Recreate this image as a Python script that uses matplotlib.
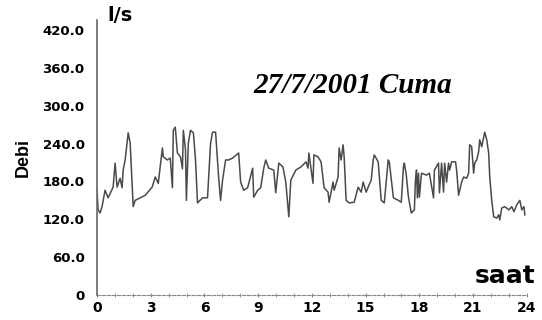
import matplotlib.pyplot as plt
import numpy as np

# hour of day and flow (l/s)
hours = [0.00, 0.06, 0.17, 0.28, 0.45, 0.62, 0.90, 1.01, 1.12, 1.29, 1.40, 1.46, 1.57, 1.74,
         1.85, 2.02, 2.13, 2.69, 3.08, 3.25, 3.42, 3.65, 3.70, 3.93, 4.09, 4.21, 4.26, 4.37,
         4.49, 4.66, 4.77, 4.82, 4.94, 4.99, 5.10, 5.22, 5.38, 5.50, 5.61, 5.89, 6.17, 6.34,
         6.45, 6.62, 6.79, 6.90, 7.01, 7.18, 7.35, 7.57, 7.91, 8.02, 8.19, 8.41, 8.69, 8.75,
         8.97, 9.14, 9.31, 9.42, 9.59, 9.87, 9.98, 10.15, 10.38, 10.54, 10.71, 10.82, 11.10,
         11.39, 11.67, 11.78, 11.83, 12.06, 12.11, 12.34, 12.51, 12.68, 12.90, 12.96, 13.18,
         13.24, 13.46, 13.52, 13.63, 13.74, 13.80, 13.91, 14.08, 14.36, 14.58, 14.75, 14.86,
         15.03, 15.14, 15.31, 15.42, 15.48, 15.70, 15.87, 16.04, 16.26, 16.32, 16.55, 16.83,
         16.99, 17.11, 17.16, 17.27, 17.39, 17.55, 17.72, 17.78, 17.84, 17.89, 17.95, 18.00,
         18.12, 18.40, 18.56, 18.79, 18.84, 19.07, 19.12, 19.24, 19.35, 19.41, 19.52, 19.63,
         19.69, 19.80, 20.02, 20.08, 20.19, 20.36, 20.47, 20.64, 20.75, 20.81, 20.92, 21.03,
         21.09, 21.20, 21.31, 21.37, 21.48, 21.59, 21.65, 21.76, 21.87, 21.93, 22.04, 22.15,
         22.32, 22.43, 22.49, 22.60, 22.77, 23.00, 23.16, 23.28, 23.44, 23.61, 23.72, 23.84,
         23.89]
flow = [166, 135, 130, 140, 166, 154, 171, 209, 171, 185, 170, 198, 214, 257,
        241, 140, 150, 158, 171, 187, 177, 233, 219, 214, 217, 170, 261, 266,
        225, 219, 200, 261, 230, 150, 241, 261, 257, 214, 146, 154, 154, 240,
        258, 258, 187, 150, 182, 214, 214, 217, 225, 179, 166, 170, 201, 155,
        166, 170, 201, 214, 201, 198, 162, 209, 203, 179, 124, 182, 198,
        203, 211, 201, 225, 177, 222, 219, 211, 170, 163, 147, 179,
        166, 187, 233, 214, 238, 219, 150, 146, 147, 171, 163, 179,
        163, 171, 182, 214, 222, 211, 150, 146, 214, 211, 154, 150,
        147, 203, 209, 190, 155, 130, 135, 182, 198, 154, 193, 155,
        193, 190, 193, 154, 198, 209, 162, 209, 163, 209, 179, 209,
        198, 211, 211, 198, 158, 179, 187, 185, 193, 238, 235, 193,
        209, 214, 227, 246, 235, 250, 258, 246, 225, 187, 150, 124,
        122, 127, 119, 138, 140, 135, 140, 132, 143, 150, 135, 140,
        127]

x_ticks = [0, 3, 6, 9, 12, 15, 18, 21, 24]
y_ticks = [0, 60, 120, 180, 240, 300, 360, 420]
y_labels = ['0', '60.0', '120.0', '180.0', '240.0', '300.0', '360.0', '420.0']

fig = plt.figure(figsize=(5.42, 3.2), dpi=100)
ax = fig.add_axes([0.179, 0.078, 0.793, 0.860])

ax.plot(hours, flow, color='#4a4a4a', linewidth=1.1)

ax.set_xlim(0, 24)
ax.set_ylim(0, 436)

for s in ['top', 'right']:
    ax.spines[s].set_visible(False)
ax.spines['left'].set_color('#666666')
ax.spines['left'].set_linewidth(1.2)
ax.spines['bottom'].set_color('#888888')
ax.spines['bottom'].set_linewidth(0.8)
ax.spines['bottom'].set_linestyle((0, (3, 1.5)))

ax.set_xticks(x_ticks)
ax.set_xticks(np.arange(0, 25, 1), minor=True)
ax.set_yticks(y_ticks)
ax.set_yticklabels(y_labels)
ax.tick_params(axis='x', which='both', direction='inout', length=3, color='#888888',
               labelsize=10, pad=3)
ax.tick_params(axis='y', length=0, labelsize=9.5, pad=9)
for lab in ax.get_xticklabels() + ax.get_yticklabels():
    lab.set_fontweight('bold')

ax.set_ylabel('Debi', fontsize=13, fontweight='bold', family='Liberation Sans', labelpad=8)
ax.text(0.023, 1.014, 'l/s', transform=ax.transAxes, fontsize=14, fontweight='bold',
        ha='left', va='center')
ax.text(1.02, 0.026, 'saat', transform=ax.transAxes, fontsize=18, fontweight='bold',
        ha='right', va='bottom')
ax.text(0.595, 0.763, '27/7/2001 Cuma', transform=ax.transAxes, fontsize=21,
        fontweight='bold', fontstyle='italic', family='Liberation Serif',
        ha='center', va='center')

fig.savefig('out.png', dpi=100)
